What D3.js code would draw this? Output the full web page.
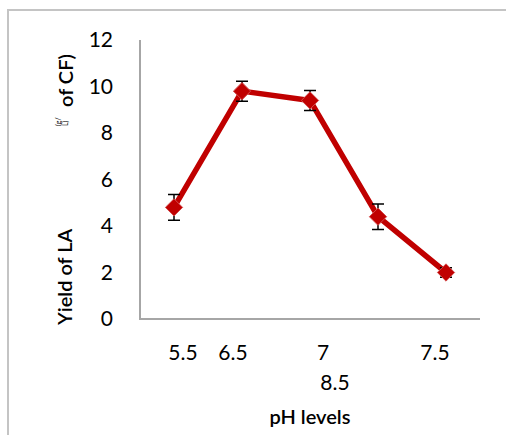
<!DOCTYPE html>
<html>
<head>
<meta charset="utf-8">
<script src="https://cdn.jsdelivr.net/npm/d3@7"></script>
<style>
  body { margin: 0; background: #fff; }
  text { font-family: Lato, "Open Sans", sans-serif; fill: #000; }
</style>
</head>
<body>
<div id="chart"></div>
<script>
// data
var phLevels = ["5.5", "6.5", "7", "7.5", "8.5"];
var yieldLA = [4.8, 9.8, 9.4, 4.4, 2.0];
var yieldErr = [0.55, 0.43, 0.43, 0.55, 0.2];
var yTicks = [0, 2, 4, 6, 8, 10, 12];

// the x labels are shifted off their points in the original
var labelShift = [9, -9, 13, 57, -111];
var labelRow = [0, 0, 0, 0, 1];

var svgWidth = 506, svgHeight = 435;
var plot = { left: 140, right: 480, top: 40, bottom: 319 };

var svg = d3.select("#chart")
  .append("svg")
  .attr("width", svgWidth)
  .attr("height", svgHeight);

// outer frame (only top and left edges show)
svg.append("path")
  .attr("d", "M8,435 V10 H506")
  .attr("fill", "none")
  .attr("stroke", "#c4c4c4")
  .attr("stroke-width", 2);

var x = d3.scalePoint()
  .domain(phLevels)
  .range([plot.left, plot.right])
  .padding(0.5);

var y = d3.scaleLinear()
  .domain([0, 12])
  .range([plot.bottom, plot.top]);

// axis lines
svg.append("path")
  .attr("d", "M" + plot.left + "," + plot.top + " V" + plot.bottom + " H" + plot.right)
  .attr("fill", "none")
  .attr("stroke", "#a6a6a6")
  .attr("stroke-width", 2);

// y tick labels
svg.selectAll("text.ytick")
  .data(yTicks)
  .enter()
  .append("text")
  .attr("class", "ytick")
  .attr("x", 113)
  .attr("y", d => y(d) + 7)
  .attr("text-anchor", "end")
  .style("font-size", "21px")
  .text(d => d);

// x tick labels
svg.selectAll("text.xtick")
  .data(phLevels)
  .enter()
  .append("text")
  .attr("class", "xtick")
  .attr("x", (d, i) => x(d) + labelShift[i])
  .attr("y", (d, i) => 360 + labelRow[i] * 30)
  .attr("text-anchor", "middle")
  .style("font-size", "21px")
  .text(d => d);

// axis titles
svg.append("text")
  .attr("x", 310)
  .attr("y", 424)
  .attr("text-anchor", "middle")
  .style("font-size", "20px")
  .style("font-weight", "600")
  .text("pH levels");

svg.append("text")
  .attr("transform", "translate(72,325) rotate(-90)")
  .style("font-size", "20px")
  .style("font-weight", "600")
  .text("Yield of LA");

svg.append("text")
  .attr("transform", "translate(73,107) rotate(-90)")
  .style("font-size", "20px")
  .style("font-weight", "600")
  .text("of CF)");

svg.append("text")
  .attr("transform", "translate(61,126) rotate(-90)")
  .style("font-size", "7px")
  .text("(g/");

svg.append("text")
  .attr("transform", "translate(68,126) rotate(-90)")
  .style("font-size", "7px")
  .text("L)");

// line
var line = d3.line()
  .x((d, i) => x(phLevels[i]))
  .y(d => y(d));

svg.append("path")
  .datum(yieldLA)
  .attr("d", line)
  .attr("fill", "none")
  .attr("stroke", "#c00000")
  .attr("stroke-width", 5.5)
  .attr("stroke-linejoin", "round");

// error bars
var errGroup = svg.append("g")
  .attr("stroke", "#000")
  .attr("stroke-width", 1.5);

errGroup.selectAll("path")
  .data(yieldLA)
  .enter()
  .append("path")
  .attr("d", function(d, i) {
    var cx = x(phLevels[i]);
    var top = y(d + yieldErr[i]), bot = y(d - yieldErr[i]);
    return "M" + cx + "," + top + " V" + bot +
      " M" + (cx - 6) + "," + top + " H" + (cx + 6) +
      " M" + (cx - 6) + "," + bot + " H" + (cx + 6);
  });

// diamond markers
svg.selectAll("path.marker")
  .data(yieldLA)
  .enter()
  .append("path")
  .attr("class", "marker")
  .attr("d", d3.symbol().type(d3.symbolDiamond2).size(190))
  .attr("transform", (d, i) => "translate(" + x(phLevels[i]) + "," + y(d) + ")")
  .attr("fill", "#c00000")
  .attr("stroke", "#d34a4a")
  .attr("stroke-width", 1);
</script>
</body>
</html>
